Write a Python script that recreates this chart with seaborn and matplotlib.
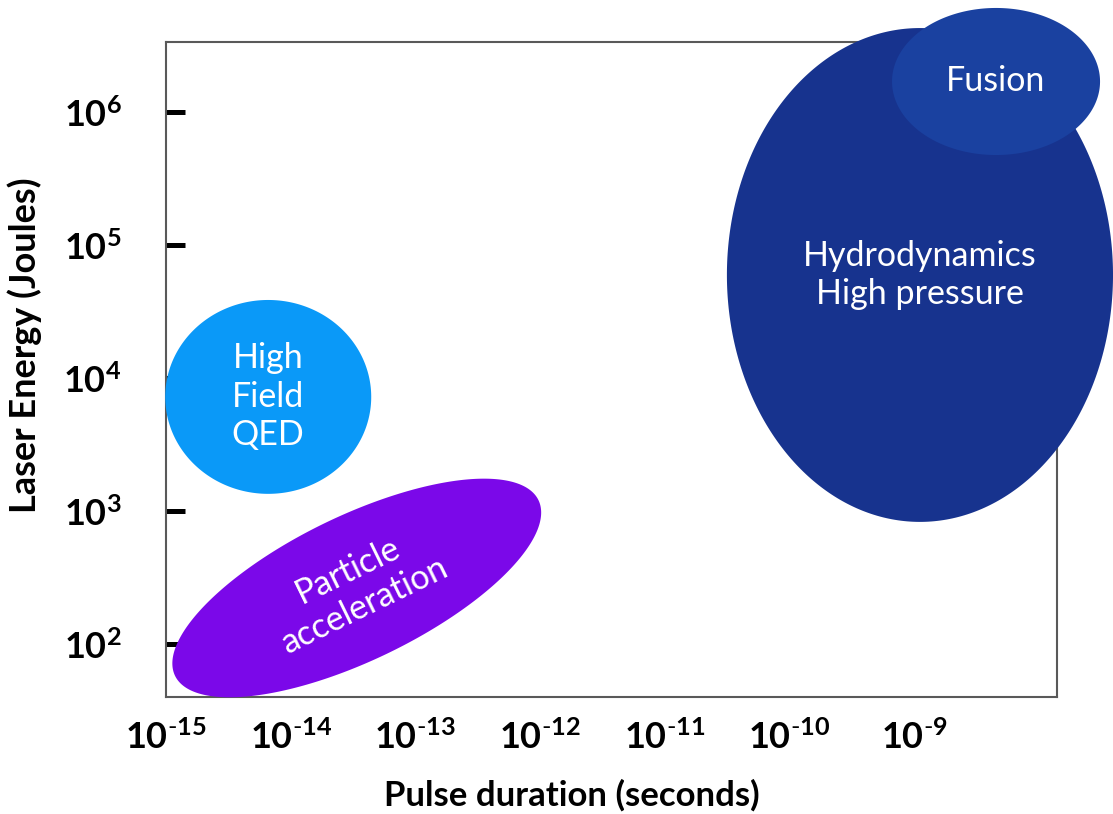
import numpy as np
import matplotlib
matplotlib.use("Agg")
import matplotlib.pyplot as plt
import seaborn as sns

# Regimes of laser-plasma physics: (log10 pulse duration, log10 energy) ellipses
regimes = ["High\nField\nQED", "Particle\nacceleration", "Hydrodynamics\nHigh pressure", "Fusion"]
center_log_t = [-14.18, -13.47, -8.954, -8.344]   # log10 seconds
center_log_e = [3.857, 2.42, 4.774, 6.229]        # log10 joules
half_width_dec = [0.826, 1.60, 1.548, 0.834]      # semi-axis along duration (decades)
half_height_dec = [0.729, 0.55, 1.857, 0.553]     # semi-axis along energy (decades)
tilt_deg = [0, 24, 0, 0]
colors = ["#0A99F8", "#7B08E9", "#17338E", "#1A41A0"]
label_rot = [0, 26, 0, 0]

x_tick_exp = [-15, -14, -13, -12, -11, -10, -9]
y_tick_exp = [2, 3, 4, 5, 6]

sns.set_theme(style="white")
plt.rcParams["font.family"] = ["Lato", "DejaVu Sans"]
plt.rcParams["mathtext.fontset"] = "custom"
plt.rcParams["mathtext.rm"] = "Lato"
plt.rcParams["mathtext.bf"] = "Lato:bold"

fig = plt.figure(figsize=(11.13, 8.14), dpi=100)
ax = fig.add_axes([0.1491, 0.1437, 0.8006, 0.8047])
ax.set_xscale("log")
ax.set_yscale("log")
ax.set_xlim(1e-15, 10 ** -7.855)
ax.set_ylim(10 ** 1.60, 10 ** 6.526)

theta = np.linspace(0, 2 * np.pi, 400)
for cx, cy, a, b, tilt, col in zip(center_log_t, center_log_e, half_width_dec,
                                   half_height_dec, tilt_deg, colors):
    t = np.deg2rad(tilt)
    u = a * np.cos(theta)
    v = b * np.sin(theta)
    lx = cx + u * np.cos(t) - v * np.sin(t)
    ly = cy + u * np.sin(t) + v * np.cos(t)
    ax.fill(10 ** lx, 10 ** ly, color=col, lw=0, clip_on=False, zorder=2)

for name, cx, cy, rot in zip(regimes, center_log_t, center_log_e, label_rot):
    ax.text(10 ** cx, 10 ** cy, name, color="white", fontsize=24.5, ha="center",
            va="center", rotation=rot, rotation_mode="anchor",
            linespacing=1.25, zorder=3)

ax.set_xticks([10.0 ** e for e in x_tick_exp])
ax.set_xticklabels([r"$\mathbf{10^{\text{-}%d}}$" % (-e) for e in x_tick_exp])
ax.set_yticks([10.0 ** e for e in y_tick_exp])
ax.set_yticklabels([r"$\mathbf{10^{%d}}$" % e for e in y_tick_exp])
ax.minorticks_off()
ax.tick_params(axis="x", length=0, pad=16, labelsize=26, labelcolor="black")
ax.tick_params(axis="y", direction="in", length=13.5, width=3.6, color="black",
               pad=32, labelsize=26, labelcolor="black", left=True)

for s in ax.spines.values():
    s.set_color("#595959")
    s.set_linewidth(1.5)
    s.set_zorder(1)

ax.set_xlabel("Pulse duration (seconds)", fontsize=25, fontweight="bold", color="black")
ax.set_ylabel("Laser Energy (Joules)", fontsize=26, fontweight="bold", color="black")
ax.xaxis.set_label_coords(0.456, -0.125)
ax.yaxis.set_label_coords(-0.139, 0.537)

fig.savefig("out.png", dpi=100)
